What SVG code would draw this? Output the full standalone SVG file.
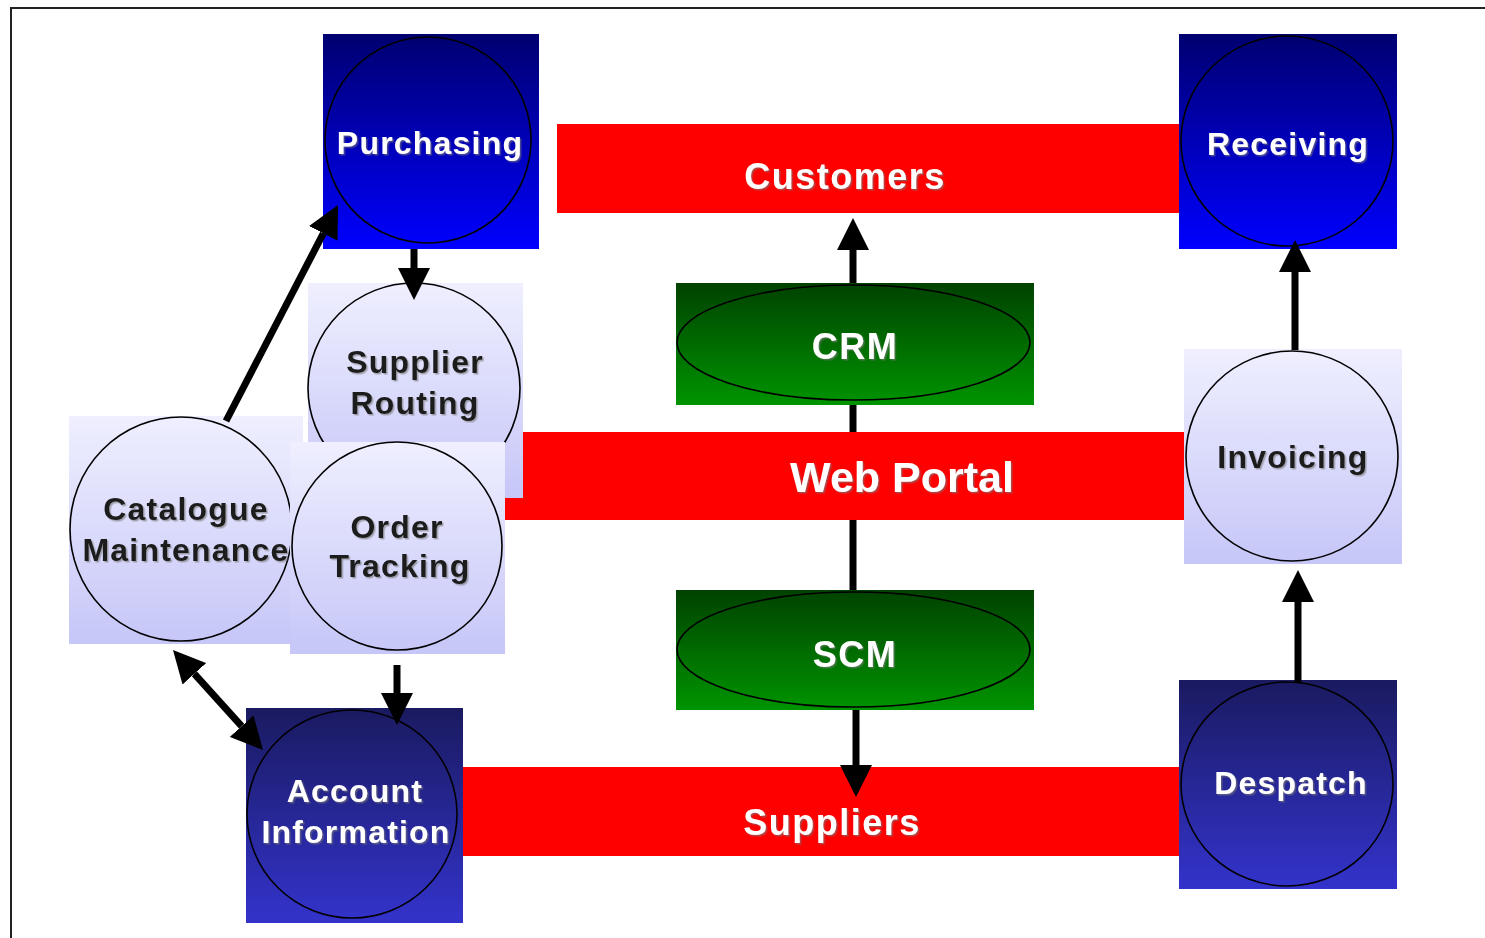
<svg xmlns="http://www.w3.org/2000/svg" width="1485" height="938" viewBox="0 0 1485 938">
<style>
.lbl{font-family:"Liberation Sans",Arial,sans-serif;font-weight:bold;font-size:32px;letter-spacing:1.2px;text-anchor:middle;filter:url(#sh)}
.w{fill:#ffffff}
.d{fill:#1a1a1a}
.bar{fill:#ff0000}
.ring{fill:none;stroke:#000;stroke-width:1.6}
.big{font-size:36px;letter-spacing:1.5px}
.con{stroke:#000;stroke-width:7;fill:none}
.arr{marker-end:url(#ah)}
.arr2{marker-start:url(#ah);marker-end:url(#ah)}
</style>
<defs>
<linearGradient id="gBlue" x1="0" y1="0" x2="0" y2="1"><stop offset="0" stop-color="#000070"/><stop offset="1" stop-color="#0000ff"/></linearGradient>
<linearGradient id="gNavy" x1="0" y1="0" x2="0" y2="1"><stop offset="0" stop-color="#1a1a60"/><stop offset="1" stop-color="#3333cc"/></linearGradient>
<linearGradient id="gLav" x1="0" y1="0" x2="0" y2="1"><stop offset="0" stop-color="#efefff"/><stop offset="1" stop-color="#c6c6f8"/></linearGradient>
<linearGradient id="gGreen" x1="0" y1="0" x2="0" y2="1"><stop offset="0" stop-color="#004200"/><stop offset="1" stop-color="#009400"/></linearGradient>
<marker id="ah" markerUnits="userSpaceOnUse" markerWidth="32" markerHeight="32" viewBox="0 0 32 32" refX="0" refY="16" orient="auto-start-reverse"><path d="M0,0 L32,16 L0,32 z" fill="#000"/></marker>
<filter id="sh" x="-10%" y="-20%" width="130%" height="150%"><feDropShadow dx="1.5" dy="1.5" stdDeviation="0.7" flood-color="#777" flood-opacity="0.6"/></filter>
</defs>
<rect x="11" y="8" width="1490" height="945" fill="#fff" stroke="#222" stroke-width="2"/>

<g id="customers"><rect class="bar" x="557" y="124" width="625" height="89"/><text class="lbl w big" x="845" y="189">Customers</text></g>
<g id="web-portal"><rect class="bar" x="480" y="432" width="706" height="88"/><text class="lbl w" style="font-size:43px;letter-spacing:0" x="902" y="492">Web Portal</text></g>
<g id="suppliers"><rect class="bar" x="455" y="767" width="727" height="89"/><text class="lbl w big" x="832" y="835">Suppliers</text></g>

<g id="purchasing"><rect x="323" y="34" width="216" height="215" fill="url(#gBlue)"/><ellipse class="ring" cx="428" cy="140" rx="103" ry="103"/><text class="lbl w" x="430" y="154">Purchasing</text></g>
<g id="receiving"><rect x="1179" y="34" width="218" height="215" fill="url(#gBlue)"/><ellipse class="ring" cx="1287" cy="141" rx="106" ry="105"/><text class="lbl w" x="1288" y="155">Receiving</text></g>

<g id="supplier-routing"><rect x="308" y="283" width="215" height="215" fill="url(#gLav)"/><ellipse class="ring" cx="414" cy="388" rx="106" ry="105"/><text class="lbl d" x="415" y="373">Supplier</text><text class="lbl d" x="415" y="414">Routing</text></g>
<g id="catalogue-maintenance"><rect x="69" y="416" width="234" height="228" fill="url(#gLav)"/><ellipse class="ring" cx="181" cy="529" rx="111" ry="112"/><text class="lbl d" x="186" y="520">Catalogue</text><text class="lbl d" x="186" y="561">Maintenance</text></g>
<g id="order-tracking"><rect x="290" y="442" width="215" height="212" fill="url(#gLav)"/><ellipse class="ring" cx="397" cy="546" rx="105" ry="104"/><text class="lbl d" x="397" y="538">Order</text><text class="lbl d" x="400" y="577">Tracking</text></g>

<g id="crm"><rect x="676" y="283" width="358" height="122" fill="url(#gGreen)"/><ellipse class="ring" cx="853.5" cy="342.5" rx="176.5" ry="57.5"/><text class="lbl w big" x="855" y="359">CRM</text></g>
<g id="scm"><rect x="676" y="590" width="358" height="120" fill="url(#gGreen)"/><ellipse class="ring" cx="853.5" cy="649.5" rx="176.5" ry="57.5"/><text class="lbl w big" x="855" y="667">SCM</text></g>

<g id="account-information"><rect x="246" y="708" width="217" height="215" fill="url(#gNavy)"/><ellipse class="ring" cx="352" cy="814" rx="105" ry="104"/><text class="lbl w" x="355" y="802">Account</text><text class="lbl w" x="356" y="843">Information</text></g>

<g id="invoicing"><rect x="1184" y="349" width="218" height="215" fill="url(#gLav)"/><ellipse class="ring" cx="1292" cy="456" rx="106" ry="105"/><text class="lbl d" x="1293" y="468">Invoicing</text></g>
<g id="despatch"><rect x="1179" y="680" width="218" height="209" fill="url(#gNavy)"/><ellipse class="ring" cx="1287" cy="784" rx="106" ry="102"/><text class="lbl w" x="1291" y="794">Despatch</text></g>

<g id="connectors">
<line class="con arr" x1="226" y1="421" x2="323.3" y2="233.4"/>
<line class="con arr" x1="414" y1="249" x2="414" y2="268"/>
<line class="con arr" x1="397" y1="665" x2="397" y2="693"/>
<line class="con arr2" x1="194.4" y1="673.8" x2="241.6" y2="726.2"/>
<line class="con arr" x1="853" y1="283" x2="853" y2="250"/>
<line class="con" x1="853" y1="405" x2="853" y2="432"/>
<line class="con" x1="853" y1="520" x2="853" y2="590"/>
<line class="con arr" x1="856" y1="710" x2="856" y2="765"/>
<line class="con arr" x1="1295" y1="350" x2="1295" y2="272"/>
<line class="con arr" x1="1298" y1="682" x2="1298" y2="602"/>
</g>
</svg>
